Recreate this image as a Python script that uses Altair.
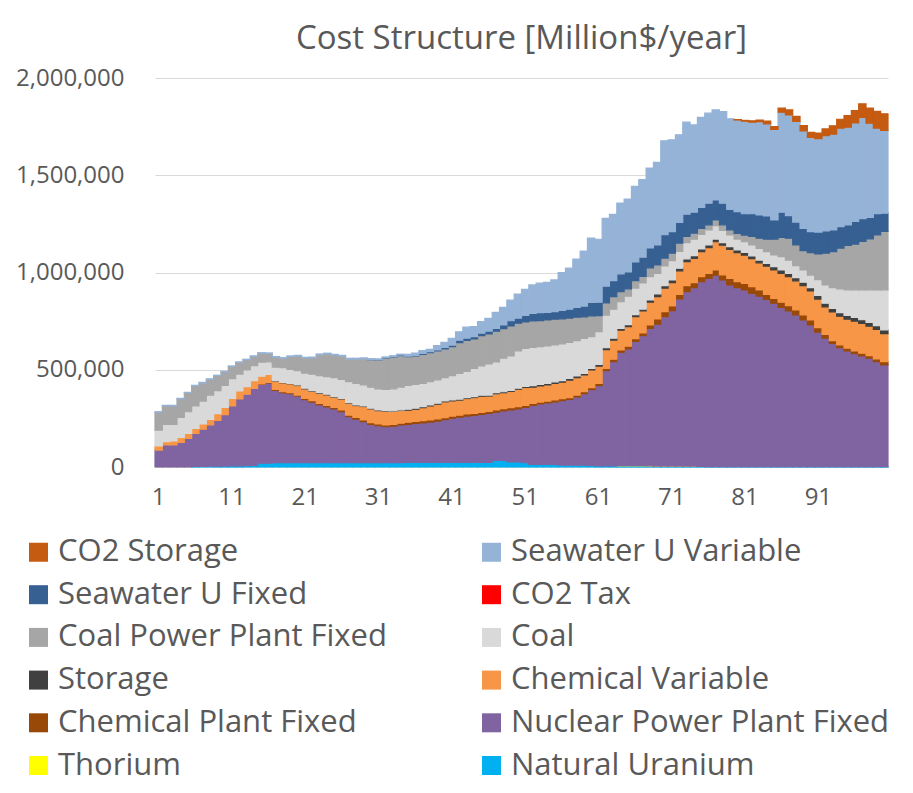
import altair as alt
import pandas as pd

# bar index (category axis)
bars = list(range(1, 101))
x_tick_labels = [1, 11, 21, 31, 41, 51, 61, 71, 81, 91]
y_ticks = [0, 500000, 1000000, 1500000, 2000000]

# values in thousand (Million$/year) per bar
natural_uranium = [0, 0, 0, 0, 0, 3, 3, 4, 4, 5, 6, 6, 7, 8, 20, 20,
                   22, 22, 22, 22, 22, 22, 22, 22, 22, 22, 22, 22, 22, 22, 22, 22, 22, 22,
                   24, 24, 24, 24, 24, 24, 24, 24, 24, 24, 24, 24, 34, 34, 26, 26, 22,
                   14, 14, 14, 14, 10, 10, 10, 10, 8, 6, 6, 6, 6, 6, 6, 6, 5,
                   4, 4, 4, 4, 3, 3, 3, 2, 2, 2, 2, 2, 2, 2, 2, 2, 2,
                   2, 2, 2, 2, 2, 2, 2, 2, 2, 2, 2, 2, 2, 2, 2]
thorium = [0, 0, 0, 0, 0, 0, 0, 0, 0, 0, 0, 0, 0, 0, 0, 0,
           0, 0, 0, 0, 0, 0, 0, 0, 0, 0, 0, 0, 0, 0, 0, 0, 0, 0,
           0, 0, 0, 0, 0, 0, 0, 0, 0, 0, 0, 0, 0, 0, 0, 0, 0,
           0, 0, 0, 0, 0, 0, 0, 0, 0, 0, 0, 0, 1, 1, 1, 1, 1,
           1, 1, 1, 1, 1, 1, 0, 0, 0, 0, 0, 0, 0, 0, 0, 0, 0,
           0, 0, 0, 0, 0, 0, 0, 0, 0, 0, 0, 0, 0, 0, 0]
nuclear_fixed = [87, 113, 113, 127, 147, 170, 192, 212, 236, 264, 308, 344, 367, 396, 405, 412,
                 372, 360, 355, 343, 324, 312, 297, 287, 277, 263, 237, 224, 211, 197, 190, 185, 188, 194,
                 195, 200, 203, 207, 212, 219, 227, 232, 238, 241, 246, 251, 248, 255, 268, 273, 284,
                 303, 310, 315, 321, 331, 337, 350, 367, 390, 412, 489, 536, 583, 600, 639, 668, 706,
                 729, 768, 799, 859, 898, 918, 950, 968, 985, 960, 934, 920, 908, 891, 877, 860, 840,
                 819, 800, 780, 754, 728, 691, 660, 634, 612, 595, 581, 569, 557, 540, 523]
chem_plant_fixed = [0, 0, 0, 0, 0, 0, 0, 0, 0, 0, 0, 0, 0, 0, 2, 3,
                    5, 5, 5, 5, 7, 7, 8, 8, 8, 8, 8, 9, 9, 9, 9, 9, 9, 9,
                    11, 11, 11, 11, 11, 11, 11, 11, 11, 11, 11, 11, 11, 11, 11, 11, 11,
                    10, 10, 10, 10, 10, 10, 10, 10, 10, 12, 12, 12, 12, 14, 14, 14, 18,
                    27, 26, 24, 24, 31, 26, 26, 26, 26, 26, 34, 31, 34, 34, 31, 26, 25,
                    26, 28, 26, 26, 26, 24, 20, 14, 14, 14, 14, 14, 14, 14, 17]
chem_variable = [21, 17, 21, 25, 26, 26, 26, 29, 34, 38, 39, 41, 39, 40, 40, 41,
                 43, 46, 46, 49, 49, 49, 52, 54, 52, 57, 61, 61, 69, 71, 69, 71, 67, 66,
                 62, 62, 67, 72, 76, 81, 78, 77, 79, 81, 83, 79, 84, 82, 84, 90, 92,
                 83, 83, 83, 85, 85, 90, 90, 86, 91, 88, 96, 98, 101, 101, 113, 113, 117,
                 115, 120, 120, 120, 123, 125, 128, 132, 145, 152, 149, 149, 145, 144, 140, 145, 146,
                 149, 149, 149, 151, 149, 146, 141, 147, 147, 149, 153, 153, 151, 152, 144]
storage = [0, 0, 0, 0, 0, 0, 0, 0, 0, 0, 0, 0, 0, 0, 0, 0,
           2, 2, 2, 3, 3, 3, 3, 3, 3, 3, 3, 3, 3, 3, 3, 3, 3, 3,
           5, 5, 5, 5, 5, 5, 5, 5, 5, 5, 5, 5, 5, 5, 5, 5, 6,
           8, 8, 8, 8, 8, 8, 8, 8, 8, 10, 10, 10, 10, 10, 10, 10, 12,
           14, 14, 14, 14, 14, 14, 14, 14, 14, 14, 14, 14, 14, 14, 14, 14, 17,
           17, 17, 17, 17, 17, 19, 19, 19, 19, 19, 19, 19, 19, 19, 19]
coal = [82, 89, 85, 103, 111, 115, 118, 124, 119, 113, 101, 87, 86, 77, 72, 65,
        69, 76, 72, 73, 77, 84, 88, 91, 97, 98, 108, 111, 108, 108, 108, 109, 113, 117,
        122, 123, 120, 120, 120, 120, 125, 132, 134, 145, 151, 160, 158, 172, 177, 192, 195,
        197, 194, 192, 190, 189, 185, 182, 180, 163, 168, 168, 149, 137, 146, 137, 134, 120,
        106, 101, 99, 86, 84, 84, 75, 77, 69, 62, 60, 56, 55, 57, 60, 60, 60,
        69, 68, 61, 63, 65, 81, 94, 106, 122, 132, 142, 154, 168, 183, 206]
coal_pp_fixed = [92, 96, 96, 96, 98, 104, 94, 82, 77, 70, 63, 60, 53, 48, 46, 43,
                 52, 48, 66, 76, 79, 85, 108, 117, 117, 120, 116, 125, 135, 142, 150, 161, 164, 162,
                 148, 146, 149, 149, 149, 147, 149, 158, 160, 151, 155, 154, 158, 152, 154, 142, 136,
                 136, 134, 134, 132, 129, 125, 120, 111, 107, 82, 63, 65, 52, 38, 38, 34, 45,
                 43, 40, 38, 43, 31, 31, 31, 26, 29, 29, 26, 29, 34, 43, 52, 64, 82,
                 98, 112, 107, 99, 115, 132, 163, 185, 209, 228, 235, 249, 262, 283, 300]
co2_tax = [0, 0, 0, 0, 0, 0, 0, 0, 0, 0, 0, 0, 0, 0, 0, 0, 0, 0, 0, 0,
           0, 0, 0, 0, 0, 0, 0, 0, 0, 0, 0, 0, 0, 0, 0, 0, 0, 0, 0, 0,
           0, 0, 0, 0, 0, 0, 0, 0, 0, 0, 0, 0, 0, 0, 0, 0, 0, 0, 0, 0,
           0, 0, 0, 0, 0, 0, 0, 0, 0, 0, 0, 0, 0, 0, 0, 0, 0, 0, 0, 0,
           0, 0, 0, 0, 0, 0, 0, 0, 0, 0, 0, 0, 0, 0, 0, 0, 0, 0, 0, 0]
seawater_fixed = [0, 0, 0, 0, 0, 0, 0, 0, 0, 0, 0, 0, 0, 0, 0, 0,
                  0, 0, 0, 0, 0, 0, 0, 0, 0, 0, 0, 0, 0, 1, 1, 2, 2, 3,
                  3, 3, 5, 5, 5, 8, 8, 13, 12, 12, 13, 15, 15, 19, 27, 26, 33,
                  39, 41, 39, 39, 43, 46, 50, 55, 69, 69, 86, 82, 91, 87, 96, 99, 102,
                  103, 120, 111, 106, 115, 108, 108, 111, 103, 111, 106, 112, 110, 117, 120, 120, 98,
                  130, 116, 117, 115, 108, 113, 115, 112, 111, 106, 117, 117, 110, 110, 94]
seawater_variable = [2, 2, 2, 2, 2, 2, 2, 2, 2, 2, 2, 2, 2, 2, 2, 2,
                     3, 3, 3, 3, 3, 3, 3, 3, 3, 3, 4, 4, 4, 4, 4, 4, 4, 4,
                     9, 11, 14, 12, 22, 26, 35, 43, 56, 52, 60, 65, 82, 91, 106, 124, 134,
                     146, 151, 154, 163, 195, 211, 249, 283, 331, 324, 348, 341, 364, 375, 389, 398, 411,
                     424, 483, 472, 451, 473, 449, 463, 463, 463, 471, 465, 471, 476, 471, 480, 473, 466,
                     514, 518, 518, 501, 484, 480, 490, 492, 506, 502, 506, 521, 485, 439, 425]
co2_storage = [0, 0, 0, 0, 0, 0, 0, 0, 0, 0, 0, 0, 0, 0, 0, 0,
               0, 0, 0, 0, 0, 0, 0, 0, 0, 0, 0, 0, 0, 0, 0, 0, 0, 0,
               0, 0, 0, 0, 0, 0, 0, 0, 0, 0, 0, 0, 0, 0, 0, 0, 0,
               0, 0, 0, 0, 0, 0, 0, 0, 0, 0, 0, 0, 0, 0, 0, 0, 0,
               0, 0, 0, 0, 0, 0, 0, 0, 0, 0, 0, 2, 4, 7, 8, 15, 14,
               21, 26, 26, 27, 26, 29, 34, 43, 46, 60, 64, 69, 77, 86, 86]

# stacking order, bottom to top
stack_series = [
    ("Natural Uranium", natural_uranium),
    ("Thorium", thorium),
    ("Nuclear Power Plant Fixed", nuclear_fixed),
    ("Chemical Plant Fixed", chem_plant_fixed),
    ("Chemical Variable", chem_variable),
    ("Storage", storage),
    ("Coal", coal),
    ("Coal Power Plant Fixed", coal_pp_fixed),
    ("CO2 Tax", co2_tax),
    ("Seawater U Fixed", seawater_fixed),
    ("Seawater U Variable", seawater_variable),
    ("CO2 Storage", co2_storage),
]

# legend entries (filled column by column: left column, then right column)
legend_order = ["CO2 Storage", "Seawater U Fixed", "Coal Power Plant Fixed", "Storage",
                "Chemical Plant Fixed", "Thorium",
                "Seawater U Variable", "CO2 Tax", "Coal", "Chemical Variable",
                "Nuclear Power Plant Fixed", "Natural Uranium"]
legend_colors = ["#C55A11", "#376092", "#A6A6A6", "#404040",
                 "#984807", "#FFFF00",
                 "#95B3D7", "#FF0000", "#D9D9D9", "#F79646",
                 "#8064A2", "#00B0F0"]

rows = []
for k, (name, vals) in enumerate(stack_series):
    for b, v in zip(bars, vals):
        if v > 0:
            rows.append({"bar": b, "series": name, "value": v * 1000, "order": k})
df = pd.DataFrame(rows)

FONT = "Open Sans"
TXT = "#595959"
cscale = alt.Scale(domain=legend_order, range=legend_colors)

chart = alt.Chart(df).mark_bar(strokeWidth=1.2).encode(
    x=alt.X("bar:O", scale=alt.Scale(paddingInner=0, paddingOuter=0),
            axis=alt.Axis(values=x_tick_labels, labelAngle=0, title=None, ticks=False,
                          domainColor="#D9D9D9", domainWidth=1, labelFontSize=24,
                          labelFont=FONT, labelColor=TXT, labelPadding=18)),
    y=alt.Y("value:Q", stack="zero", scale=alt.Scale(domain=[0, 2000000], nice=False),
            axis=alt.Axis(values=y_ticks, format=",.0f", title=None, domain=False, ticks=False,
                          gridColor="#D9D9D9", gridWidth=1, labelFontSize=24, labelFont=FONT,
                          labelColor=TXT, labelPadding=31)),
    color=alt.Color("series:N", scale=cscale,
                    legend=alt.Legend(columns=2, orient="none", legendX=-132, legendY=458.5,
                                      title=None, symbolType="square", symbolSize=361,
                                      symbolStrokeWidth=0, labelFontSize=31, labelFont=FONT,
                                      labelColor=TXT, labelLimit=600, labelOffset=4,
                                      rowPadding=10.7, columnPadding=89, padding=0)),
    stroke=alt.Stroke("series:N", scale=cscale, legend=None),
    order=alt.Order("order:Q", sort="ascending"),
).properties(
    width=733, height=389,
    title=alt.TitleParams("Cost Structure [Million$/year]", anchor="middle", frame="group",
                          font=FONT, fontSize=33, fontWeight="normal", color=TXT, offset=10),
    autosize=alt.AutoSizeParams(type="none"),
    padding={"left": 147, "top": 70, "right": 15, "bottom": 317},
).configure_view(strokeWidth=0)

chart.save("out.html", embed_options={"renderer": "svg", "actions": False})
